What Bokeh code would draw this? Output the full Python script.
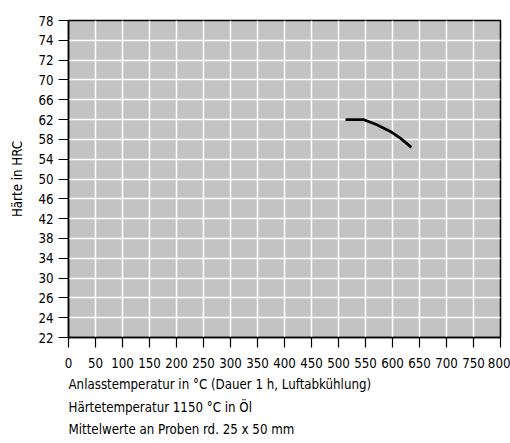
import numpy as np
from bokeh.plotting import figure
from bokeh.models import Range1d, FixedTicker, Title
from bokeh.embed import file_html
from bokeh.resources import INLINE

# Data
y_tick_labels = [78, 74, 72, 70, 66, 62, 58, 54, 50, 46, 42, 38, 34, 30, 26, 24, 22]
x_ticks = list(range(0, 801, 50))
temp = [513, 546, 570, 596, 615, 635]
hrc = [62.0, 62.0, 61.0, 59.6, 58.2, 56.4]

notes = [
    "Anlasstemperatur in °C (Dauer 1 h, Luftabkühlung)",
    "Härtetemperatur 1150 °C in Öl",
    "Mittelwerte an Proben rd. 25 x 50 mm",
]

FONT = "DejaVu Sans Condensed"
FS = "13.2px"

labels_asc = y_tick_labels[::-1]
pos_asc = list(range(len(labels_asc)))

p = figure(width=510, height=443, output_backend="svg", toolbar_location=None,
           x_range=Range1d(0, 800), y_range=Range1d(0, len(labels_asc) - 1),
           min_border_left=68, min_border_top=20, min_border_right=10,
           min_border_bottom=106)

p.border_fill_color = "#ffffff"
p.background_fill_color = "#c4c3c4"
p.outline_line_color = "black"
p.outline_line_width = 1.5

# axes
p.xaxis.ticker = FixedTicker(ticks=x_ticks)
p.yaxis.ticker = FixedTicker(ticks=pos_asc)
p.yaxis.major_label_overrides = {i: str(v) for i, v in zip(pos_asc, labels_asc)}
for ax in (p.xaxis, p.yaxis):
    ax.axis_line_color = "black"
    ax.axis_line_width = 1.5
    ax.major_tick_line_color = "black"
    ax.major_tick_line_width = 1.2
    ax.major_tick_out = 10
    ax.major_tick_in = 0
    ax.minor_tick_line_color = None
    ax.major_label_text_font = FONT
    ax.major_label_text_font_size = FS
    ax.major_label_text_color = "black"
p.xaxis.major_label_standoff = 10
p.yaxis.major_label_standoff = 5

p.yaxis.axis_label = "Härte in HRC"
p.yaxis.axis_label_text_font = FONT
p.yaxis.axis_label_text_font_size = FS
p.yaxis.axis_label_text_font_style = "normal"
p.yaxis.axis_label_text_color = "black"
p.yaxis.axis_label_standoff = 10

p.xgrid.grid_line_color = "white"
p.xgrid.grid_line_width = 1.5
p.xgrid.ticker = FixedTicker(ticks=x_ticks)
p.ygrid.grid_line_color = "white"
p.ygrid.grid_line_width = 1.5
p.ygrid.ticker = FixedTicker(ticks=pos_asc)

# curve
y_pos = np.interp(hrc, labels_asc, pos_asc)
p.line(temp, y_pos, line_color="black", line_width=2.8)

# notes below
for i, t in enumerate(notes):
    p.add_layout(Title(text=t, align="left", text_font=FONT, text_font_size=FS,
                       text_font_style="normal", text_color="black",
                       standoff=8 if i == 0 else 5, offset=0), "below")

open("out.html", "w").write(file_html(p, INLINE))
